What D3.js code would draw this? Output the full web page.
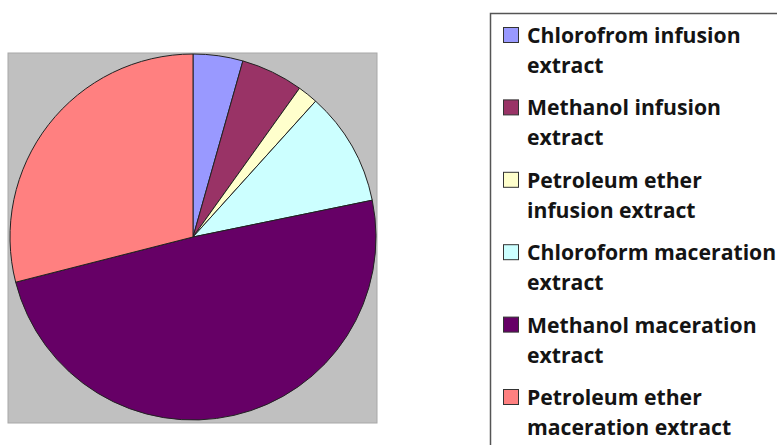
<!DOCTYPE html>
<html>
<head>
<meta charset="utf-8">
<script src="https://cdn.jsdelivr.net/npm/d3@7/dist/d3.min.js"></script>
<style>
  html, body { margin: 0; padding: 0; background: #fff; }
  svg { display: block; }
</style>
</head>
<body>
<svg id="chart" width="777" height="445"></svg>
<script>
// ---- data ----
const categories = [
  "Chlorofrom infusion extract",
  "Methanol infusion extract",
  "Petroleum ether infusion extract",
  "Chloroform maceration extract",
  "Methanol maceration extract",
  "Petroleum ether maceration extract"
];
const legendLines = [
  ["Chlorofrom infusion", "extract"],
  ["Methanol infusion", "extract"],
  ["Petroleum ether", "infusion extract"],
  ["Chloroform maceration", "extract"],
  ["Methanol maceration", "extract"],
  ["Petroleum ether", "maceration extract"]
];
const values = [4.4, 5.5, 1.8, 10.1, 49.3, 29.0];
const colors = ["#9999FF", "#993366", "#FFFFCC", "#CCFFFF", "#660066", "#FF8080"];

// ---- drawing ----
const svg = d3.select("#chart");

// plot area
svg.append("rect")
  .attr("x", 8).attr("y", 53)
  .attr("width", 369).attr("height", 370)
  .attr("fill", "#C0C0C0")
  .attr("stroke", "#A8A8A8")
  .attr("stroke-width", 1);

const cx = 193, cy = 237, r = 183;
const pie = d3.pie().sort(null).value(d => d)(values);
const arc = d3.arc().innerRadius(0).outerRadius(r);

svg.append("g")
  .attr("transform", `translate(${cx},${cy})`)
  .selectAll("path")
  .data(pie)
  .join("path")
  .attr("d", arc)
  .attr("fill", (d, i) => colors[i])
  .attr("stroke", "#222")
  .attr("stroke-width", 1)
  .attr("stroke-linejoin", "round");

// legend
const legend = svg.append("g");
legend.append("rect")
  .attr("x", 490.5).attr("y", 13.5)
  .attr("width", 300).attr("height", 450)
  .attr("fill", "#fff")
  .attr("stroke", "#555")
  .attr("stroke-width", 1.5);

const step = 72.4, firstBase = 43;
const items = legend.selectAll("g.item")
  .data(categories)
  .join("g")
  .attr("class", "item")
  .attr("transform", (d, i) => `translate(0,${firstBase + i * step})`);

items.append("rect")
  .attr("x", 503.5).attr("y", -15.5)
  .attr("width", 15).attr("height", 15)
  .attr("fill", (d, i) => colors[i])
  .attr("stroke", "#333")
  .attr("stroke-width", 1);

items.each(function(d, i) {
  const t = d3.select(this).append("text")
    .attr("x", 527)
    .attr("font-family", "'Open Sans', sans-serif")
    .attr("font-weight", "bold")
    .attr("font-size", 21.2)
    .attr("fill", "#141414");
  legendLines[i].forEach((line, j) => {
    t.append("tspan").attr("x", 527).attr("y", j * 30).text(line);
  });
});
</script>
</body>
</html>
